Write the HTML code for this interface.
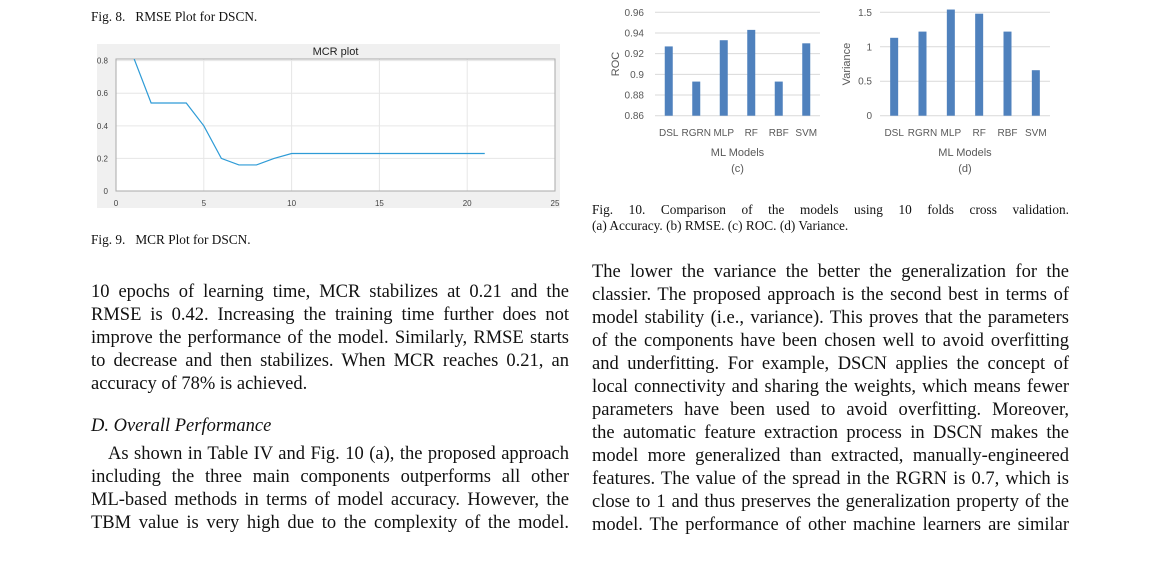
<!DOCTYPE html>
<html><head><meta charset="utf-8">
<style>
html,body{margin:0;padding:0;background:#fff;}
body{width:1159px;height:569px;position:relative;overflow:hidden;font-family:"Liberation Serif",serif;color:#111;}
.l{position:absolute;font-size:18.5px;line-height:23px;height:23px;white-space:nowrap;}
.j{text-align:justify;text-align-last:justify;white-space:normal;}
.c{position:absolute;font-size:13.3px;line-height:16px;white-space:nowrap;}
svg text{font-family:"Liberation Sans",sans-serif;}
</style></head><body>
<div class="c" style="left:91px;top:9px">Fig. 8. &nbsp;&nbsp;RMSE Plot for DSCN.</div>

<svg id="mcr" style="position:absolute;left:0;top:0" width="580" height="230"></svg>

<div class="c" style="left:91px;top:232px">Fig. 9. &nbsp;&nbsp;MCR Plot for DSCN.</div>

<svg id="bars" style="position:absolute;left:590px;top:0" width="480" height="180"></svg>

<div class="c j" style="left:592px;top:202px;width:477px">Fig. 10. Comparison of the models using 10 folds cross validation.</div>
<div class="c" style="left:592px;top:218px">(a) Accuracy. (b) RMSE. (c) ROC. (d) Variance.</div>

<div>
<div class="l j" style="left:91px;top:281px;width:478px">10 epochs of learning time, MCR stabilizes at 0.21 and the</div>
<div class="l j" style="left:91px;top:304px;width:478px">RMSE is 0.42. Increasing the training time further does not</div>
<div class="l j" style="left:91px;top:327px;width:478px">improve the performance of the model. Similarly, RMSE starts</div>
<div class="l j" style="left:91px;top:350px;width:478px">to decrease and then stabilizes. When MCR reaches 0.21, an</div>
<div class="l" style="left:91px;top:373px">accuracy of 78% is achieved.</div>
<div class="l" style="left:91px;top:415px;font-style:italic">D. Overall Performance</div>
<div class="l j" style="left:108px;top:443px;width:461px">As shown in Table IV and Fig. 10 (a), the proposed approach</div>
<div class="l j" style="left:91px;top:466px;width:478px">including the three main components outperforms all other</div>
<div class="l j" style="left:91px;top:489px;width:478px">ML-based methods in terms of model accuracy. However, the</div>
<div class="l j" style="left:91px;top:512px;width:478px">TBM value is very high due to the complexity of the model.</div>
</div>

<div>
<div class="l j" style="left:592px;top:261px;width:477px">The lower the variance the better the generalization for the</div>
<div class="l j" style="left:592px;top:284px;width:477px">classier. The proposed approach is the second best in terms of</div>
<div class="l j" style="left:592px;top:307px;width:477px">model stability (i.e., variance). This proves that the parameters</div>
<div class="l j" style="left:592px;top:330px;width:477px">of the components have been chosen well to avoid overfitting</div>
<div class="l j" style="left:592px;top:353px;width:477px">and underfitting. For example, DSCN applies the concept of</div>
<div class="l j" style="left:592px;top:376px;width:477px">local connectivity and sharing the weights, which means fewer</div>
<div class="l j" style="left:592px;top:399px;width:477px">parameters have been used to avoid overfitting. Moreover,</div>
<div class="l j" style="left:592px;top:422px;width:477px">the automatic feature extraction process in DSCN makes the</div>
<div class="l j" style="left:592px;top:445px;width:477px">model more generalized than extracted, manually-engineered</div>
<div class="l j" style="left:592px;top:468px;width:477px">features. The value of the spread in the RGRN is 0.7, which is</div>
<div class="l j" style="left:592px;top:491px;width:477px">close to 1 and thus preserves the generalization property of the</div>
<div class="l j" style="left:592px;top:514px;width:477px">model. The performance of other machine learners are similar</div>
</div>

<script>
const mcrEpochs=[1,2,3,4,5,6,7,8,9,10,11,12,13,14,15,16,17,18,19,20,21];
const mcrValues=[0.82,0.54,0.54,0.54,0.40,0.20,0.16,0.16,0.20,0.23,0.23,0.23,0.23,0.23,0.23,0.23,0.23,0.23,0.23,0.23,0.23];
const mcrXTicks=[0,5,10,15,20,25];
const mcrYTicks=[0,0.2,0.4,0.6,0.8];
const models=["DSL","RGRN","MLP","RF","RBF","SVM"];
const rocValues=[0.927,0.893,0.933,0.943,0.893,0.930];
const rocTicks=[0.86,0.88,0.9,0.92,0.94,0.96];
const varValues=[1.13,1.22,1.54,1.48,1.22,0.66];
const varTicks=[0,0.5,1,1.5];

const NS="http://www.w3.org/2000/svg";
function mk(p,t,a){const e=document.createElementNS(NS,t);for(const k in a)e.setAttribute(k,a[k]);p.appendChild(e);return e;}

const m=document.getElementById('mcr');
const L=116,R=555,T=59,B=191;
const mx=v=>L+(v-0)/25*(R-L);
const my=v=>B-v/0.81*(B-T);
let bg=mk(m,'rect',{x:97,y:44,width:463,height:164,fill:'#f0f0f0'});


let pa=mk(m,'rect',{x:L,y:T,width:R-L,height:B-T,fill:'#fff',stroke:'#bbb','stroke-width':1});


let tt=mk(m,'text',{x:(L+R)/2,y:55,'text-anchor':'middle','font-size':11,fill:'#222'});tt.textContent='MCR plot';


mcrXTicks.forEach(v=>{
  const x=mx(v);
  mk(m,'line',{x1:x,x2:x,y1:T,y2:B,stroke:'#e6e6e6','stroke-width':1});
  const t=mk(m,'text',{x:x,y:206,'text-anchor':'middle','font-size':8,fill:'#444'});t.textContent=v;
  
  
});
mcrYTicks.forEach(v=>{
  const y=my(v);
  mk(m,'line',{x1:L,x2:R,y1:y,y2:y,stroke:'#e6e6e6','stroke-width':1});
  const t=mk(m,'text',{x:108,y:y+3,'text-anchor':'end','font-size':8,fill:'#444'});t.textContent=(v===0?'0':v.toFixed(1));
  
  
});
mk(m,'rect',{x:L,y:T,width:R-L,height:B-T,fill:'none',stroke:'#aaa','stroke-width':1});
const clip=mk(m,'clipPath',{id:'cp'});mk(clip,'rect',{x:L,y:T,width:R-L,height:B-T});
let ln=mk(m,'polyline',{points:mcrEpochs.map((e,i)=>mx(e)+','+my(mcrValues[i])).join(' '),fill:'none',stroke:'#2e9bd6','stroke-width':1.2,'clip-path':'url(#cp)'});



const s=document.getElementById('bars');
function barChart(gx0,gx1,ticks,vals,label,sub,fmt,labX,tickX){
  const yT=12.3,yB=115.7,lo=ticks[0],hi=ticks[ticks.length-1];
  const y=v=>yB-(v-lo)/(hi-lo)*(yB-yT);
  ticks.forEach(t=>{
    mk(s,'line',{x1:gx0,x2:gx1,y1:y(t),y2:y(t),stroke:'#d9d9d9','stroke-width':1});
    const tx=mk(s,'text',{x:tickX,y:y(t)+3.5,'text-anchor':'end','font-size':10,fill:'#595959'});tx.textContent=fmt(t);
    
    
  });
  const step=(gx1-gx0)/models.length;
  models.forEach((mo,i)=>{
    const cx=gx0+step*(i+0.5);
    const r=mk(s,'rect',{x:cx-4,y:y(vals[i]),width:8,height:yB-y(vals[i]),fill:'#4f81bd'});
    
    
    const t=mk(s,'text',{x:cx,y:136,'text-anchor':'middle','font-size':10,fill:'#595959'});t.textContent=mo;
    
    
  });
  const xl=mk(s,'text',{x:(gx0+gx1)/2,y:156,'text-anchor':'middle','font-size':11,fill:'#595959'});xl.textContent='ML Models';
  
  
  const sl=mk(s,'text',{x:(gx0+gx1)/2,y:172,'text-anchor':'middle','font-size':11,fill:'#595959'});sl.textContent=sub;
  
  
  const yl=mk(s,'text',{x:labX,y:64,'text-anchor':'middle','font-size':11,fill:'#595959',transform:`rotate(-90 ${labX} 64)`});yl.textContent=label;
  
  
}
barChart(65,230,rocTicks,rocValues,'ROC','(c)',v=>(Math.abs(v-0.9)<1e-9?'0.9':v.toFixed(2)),29,54);
barChart(290,460,varTicks,varValues,'Variance','(d)',v=>String(v),260,282);
</script>
</body></html>
